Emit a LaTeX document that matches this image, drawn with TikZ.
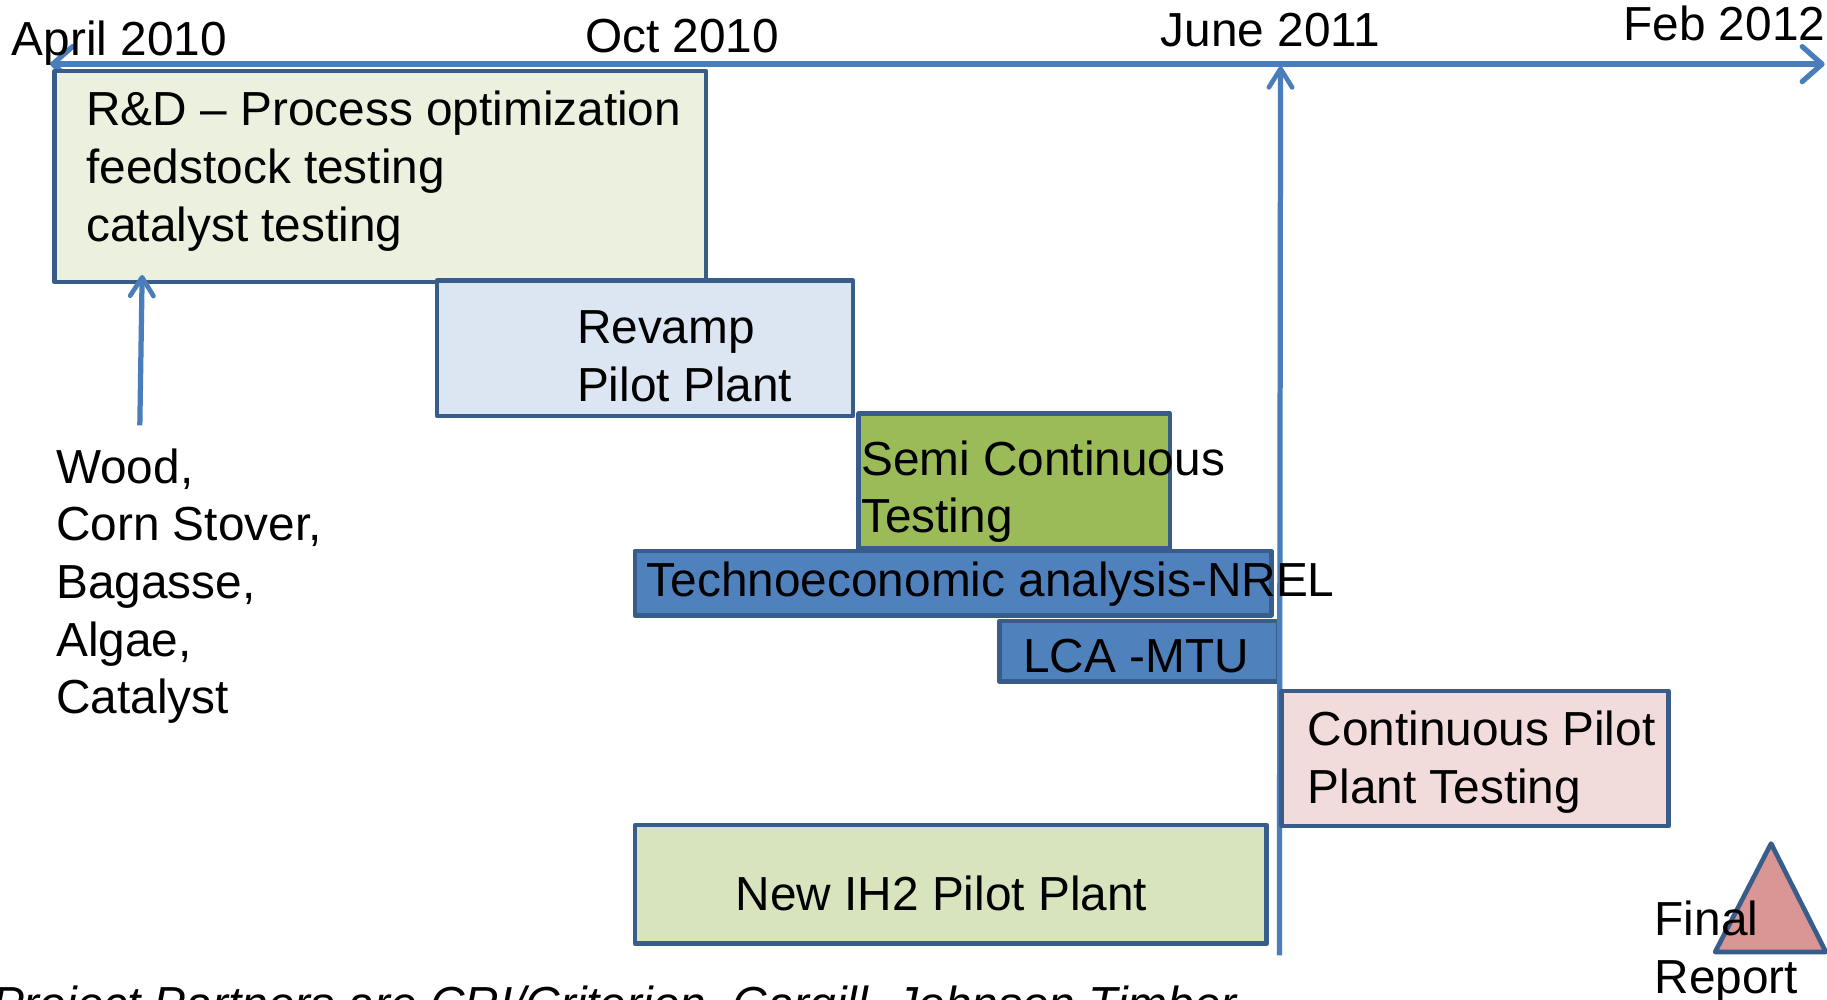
\documentclass[tikz,border=0pt]{standalone}
\usepackage{fontspec}
\setmainfont{Liberation Sans}
\usetikzlibrary{arrows.meta}
\definecolor{lineblue}{HTML}{4A7EBB}
\definecolor{borderblue}{HTML}{385D8A}
\definecolor{rdfill}{HTML}{EBF1DE}
\definecolor{revfill}{HTML}{DCE6F2}
\definecolor{semifill}{HTML}{9BBB59}
\definecolor{techfill}{HTML}{4F81BD}
\definecolor{contfill}{HTML}{F2DCDB}
\definecolor{newfill}{HTML}{D7E4BD}
\definecolor{trifill}{HTML}{D99694}
\begin{document}
\begin{tikzpicture}[x=1pt,y=-1pt,
  bar/.style={draw=borderblue, line width=4pt, line join=round, inner sep=0pt, outer sep=0pt, anchor=north west},
  txt/.style={inner sep=0pt, font=\fontsize{41}{49.5}\selectfont, align=left, text=black},
  conn/.style={draw=lineblue, line width=4.5pt, -{Straight Barb[length=16pt,width=20pt,line width=4pt,round]}},
  axis/.style={draw=lineblue, line width=5pt, {Straight Barb[length=17pt,width=30pt,line width=4.5pt,round]}-{Straight Barb[length=17pt,width=30pt,line width=4.5pt,round]}}
]
\useasboundingbox (0,0) rectangle (1568,858);
\clip (0,0) rectangle (1568,858);
\fill[white] (0,0) rectangle (1568,858);

% timeline axis
\coordinate (axL) at (43,55);
\coordinate (axR) at (1566,55);
\draw[axis] (axL) -- (axR);

% date labels
\node[txt, anchor=base west] (apr) at (10,48) {April 2010};
\node[txt, anchor=base west] (oct) at (502,45) {Oct 2010};
\node[txt, anchor=base west] (jun) at (996,40) {June 2011};
\node[txt, anchor=base west] (feb) at (1393,35) {Feb 2012};

% bars
\node[bar, fill=rdfill, minimum width=559pt, minimum height=181pt] (rd) at (47,61) {};
\node[bar, fill=revfill, minimum width=357pt, minimum height=116pt] (rev) at (375,241) {};
\node[bar, fill=semifill, minimum width=267pt, minimum height=116pt] (semi) at (737,355) {};
\node[bar, fill=techfill, minimum width=546pt, minimum height=55pt] (tech) at (545,473) {};
\node[bar, fill=techfill, minimum width=239pt, minimum height=52pt] (lca) at (858,533) {};
\node[bar, fill=newfill, minimum width=542pt, minimum height=102pt] (newp) at (545,708) {};

% June 2011 milestone line
\coordinate (junB) at (1098,820);
\coordinate (junT) at (1099,57);
\draw[conn] (junB) -- (junT);

\node[bar, fill=contfill, minimum width=332pt, minimum height=116pt] (cont) at (1100,593) {};

% feedstock arrow
\coordinate (woodT) at (120,365);
\coordinate (rdB) at (122,236);
\draw[conn] (woodT) -- (rdB);

% final report triangle
\draw[borderblue, line width=4pt, line join=round, fill=trifill] (1520,724) -- (1567,817) -- (1472,817) -- cycle;

% texts
\node[txt, anchor=west] (rdt) at (74,147) {R\&D -- Process optimization\\feedstock testing\\catalyst testing};
\node[txt, anchor=west] (revt) at (495,306) {Revamp\\Pilot Plant};
\node[txt, anchor=west] (semit) at (739,422) {Semi Continuous\\Testing};
\node[txt, anchor=west] (techt) at (555,501) {Technoeconomic analysis-NREL};
\node[txt] (lcat) at (975,563) {LCA -MTU};
\node[txt, anchor=west] (contt) at (1122,654) {Continuous Pilot\\Plant Testing};
\node[txt] (newt) at (808,767) {New IH2 Pilot Plant};
\node[txt, anchor=west] (woodt) at (48,503) {Wood,\\Corn Stover,\\Bagasse,\\Algae,\\Catalyst};
\node[txt, anchor=west] (finalt) at (1420,817) {Final\\Report};
\node[txt, anchor=base west, font=\fontsize{41}{49.5}\selectfont\itshape] (partners) at (-7,876) {Project Partners are CRI/Criterion, Cargill, Johnson Timber};
\end{tikzpicture}
\end{document}
